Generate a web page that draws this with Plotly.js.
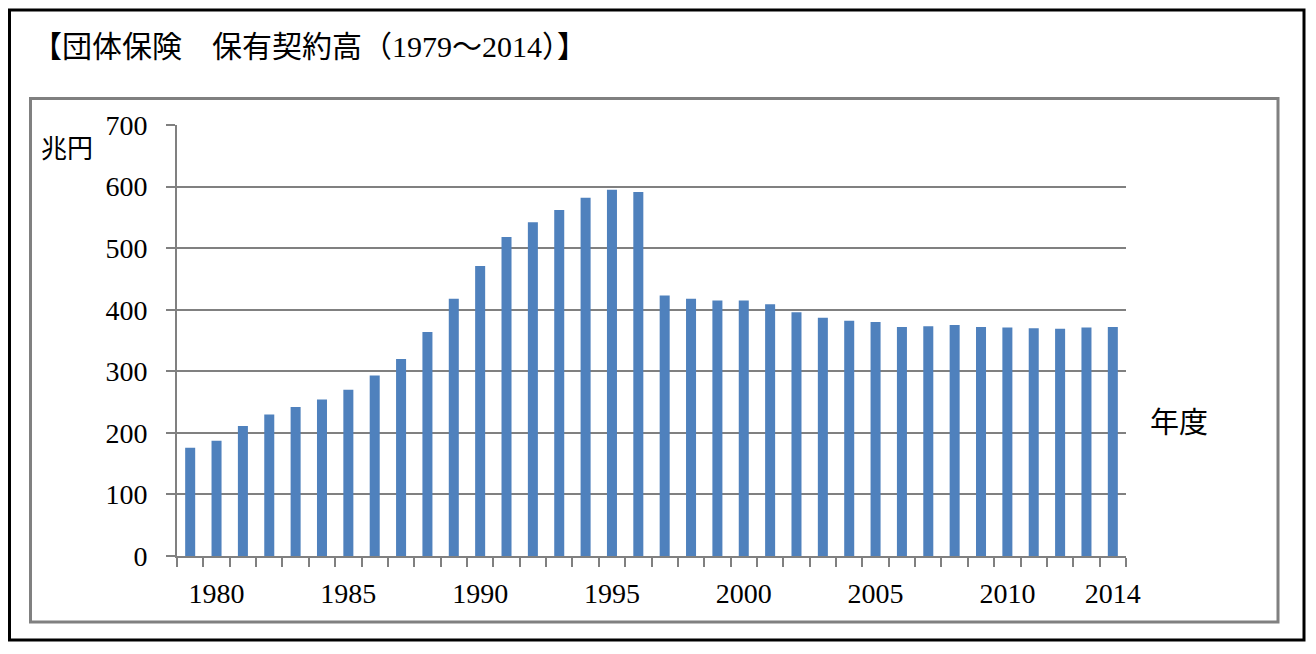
<!DOCTYPE html>
<html>
<head>
<meta charset="utf-8">
<script src="https://cdn.plot.ly/plotly-3.0.1.min.js"></script>
<style>
  html, body { margin: 0; padding: 0; background: #fff; }
  #chart { width: 1316px; height: 654px; }
</style>
</head>
<body>
<div id="chart"></div>
<script>
const years = [1979,1980,1981,1982,1983,1984,1985,1986,1987,1988,1989,1990,1991,1992,1993,1994,1995,1996,
               1997,1998,1999,2000,2001,2002,2003,2004,2005,2006,2007,2008,2009,2010,2011,2012,2013,2014];
const values = [176,187,211,230,242,254,270,293,320,364,418,471,518,542,562,582,595,591,
                423,418,415,415,409,396,387,382,380,372,373,375,372,371,370,369,371,372];
const xTickVals = [1980,1985,1990,1995,2000,2005,2010,2014];
const xTickText = ['1980','1985','1990','1995','2000','2005','2010','2014'];
const yTickVals = [0,100,200,300,400,500,600,700];
const titleText = '【団体保険　保有契約高（1979～2014）】';
const yUnit = '兆円';
const xUnit = '年度';

const W = 1316, H = 654;
const L = 177, R = 1126, T = 125, B = 556;
const px = v => (v - L) / (R - L);
const py = v => (B - v) / (B - T);

const serif = '"Liberation Serif", "Noto Sans CJK JP", serif';
const grid = '#808080';

const minorVals = years.map(y => y - 0.5).concat([years[years.length - 1] + 0.5]);

const trace = {
  type: 'bar',
  x: years,
  y: values,
  marker: { color: '#4F81BD', line: { width: 0 } },
  hoverinfo: 'x+y'
};

const layout = {
  width: W, height: H,
  margin: { l: L, r: W - R, t: T, b: H - B, pad: 0 },
  paper_bgcolor: '#ffffff',
  plot_bgcolor: 'rgba(0,0,0,0)',
  showlegend: false,
  bargap: 0.62,
  font: { family: serif, color: '#000' },
  xaxis: {
    range: [years[0] - 0.5, years[years.length - 1] + 0.5],
    tickmode: 'array',
    tickvals: xTickVals,
    ticktext: xTickText,
    ticks: '',
    showgrid: false,
    zeroline: false,
    showline: true,
    linecolor: grid,
    linewidth: 2,
    tickfont: { family: serif, size: 28, color: '#000' },
    ticklabelstandoff: 11,
    minor: {
      tickmode: 'array',
      tickvals: minorVals,
      ticks: 'outside',
      ticklen: 9,
      tickwidth: 2,
      tickcolor: grid,
      showgrid: false
    },
    fixedrange: true
  },
  yaxis: {
    range: [0, 700],
    tickmode: 'array',
    tickvals: yTickVals,
    ticks: 'outside',
    ticklen: 9,
    tickwidth: 2,
    tickcolor: grid,
    showgrid: true,
    gridcolor: grid,
    gridwidth: 2,
    zeroline: false,
    showline: true,
    linecolor: grid,
    linewidth: 2,
    tickfont: { family: serif, size: 28, color: '#000' },
    ticklabelstandoff: 13,
    fixedrange: true
  },
  shapes: [
    { type: 'rect', xref: 'paper', yref: 'paper',
      x0: px(9.5), x1: px(1304), y0: py(10), y1: py(640),
      line: { color: '#000', width: 3 }, fillcolor: 'rgba(0,0,0,0)', layer: 'above' },
    { type: 'rect', xref: 'paper', yref: 'paper',
      x0: px(30.5), x1: px(1278), y0: py(98.5), y1: py(622),
      line: { color: grid, width: 3 }, fillcolor: 'rgba(0,0,0,0)', layer: 'above' }
  ],
  annotations: [
    { text: titleText, xref: 'paper', yref: 'paper', x: px(30), y: py(47),
      xanchor: 'left', yanchor: 'middle', showarrow: false,
      font: { family: serif, size: 30, color: '#000' } },
    { text: yUnit, xref: 'paper', yref: 'paper', x: px(39), y: py(149),
      xanchor: 'left', yanchor: 'middle', showarrow: false,
      font: { family: serif, size: 26, color: '#000' } },
    { text: xUnit, xref: 'paper', yref: 'paper', x: px(1148), y: py(423),
      xanchor: 'left', yanchor: 'middle', showarrow: false,
      font: { family: serif, size: 29, color: '#000' } }
  ]
};

Plotly.newPlot('chart', [trace], layout, { staticPlot: true, displayModeBar: false });
</script>
</body>
</html>
